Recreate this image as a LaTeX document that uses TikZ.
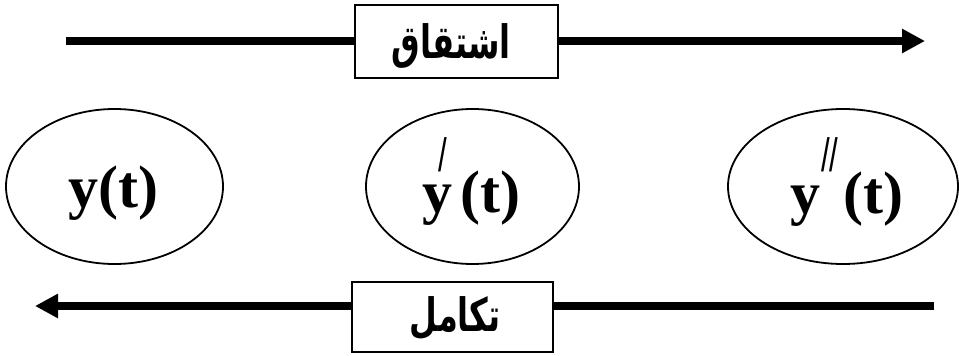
\documentclass[tikz,border=0pt]{standalone}
\usepackage{fontspec}
\setmainfont{Liberation Serif}
\newfontfamily\arabicfont[Script=Arabic]{DejaVu Sans}
\newfontfamily\slashfont{Liberation Sans}
\TeXXeTstate=1
\usetikzlibrary{shapes.geometric,arrows.meta}
\newcommand{\primeglyph}{{\slashfont\mdseries\fontsize{52}{52}\selectfont\scalebox{0.6}[0.9]{/}}}
\begin{document}
\begin{tikzpicture}[x=1pt,y=-1pt,
  oval/.style={draw,ellipse,line width=1.8pt,inner sep=0pt},
  arrowline/.style={line width=8pt,-{Triangle[length=23pt,width=23pt]}},
  labelbox/.style={draw,fill=white,line width=2pt,inner sep=0pt},
  fn/.style={font=\fontsize{60}{60}\selectfont\bfseries,anchor=base west,inner sep=0pt},
  ar/.style={font=\arabicfont\fontsize{40}{40}\selectfont\bfseries,inner sep=0pt}]
\useasboundingbox (0,0) rectangle (959,356);
\coordinate (a1) at (66,41);
\coordinate (a2) at (925,41);
\coordinate (b1) at (934,306);
\coordinate (b2) at (35,306);
\draw[arrowline] (a1) -- (a2);
\draw[arrowline] (b1) -- (b2);
\node[labelbox,minimum width=203pt,minimum height=73pt] (d) at (456.5,41.5) {};
\node[ar] (dt) at (451,45.5) {\scalebox{0.8}[1.15]{\beginR اشتقاق\endR}};
\node[labelbox,minimum width=201pt,minimum height=70pt] (i) at (452.5,317) {};
\node[ar] (it) at (455,318.5) {\scalebox{0.8}[1.15]{\beginR تكامل\endR}};
\node[oval,minimum width=217pt,minimum height=155pt] (e1) at (114.5,186.5) {};
\node[oval,minimum width=213pt,minimum height=155pt] (e2) at (472.5,186.5) {};
\node[oval,minimum width=230pt,minimum height=155pt] (e3) at (843,186.5) {};
\node[fn] (t1) at (68,207) {y(t)};
\node[fn] (t2) at (422,212) {y\rlap{\hspace{-14pt}\raisebox{41pt}{\primeglyph}}\hspace{8pt}(t)};
\node[fn] (t3) at (790,213) {y\rlap{\hspace{1pt}\raisebox{42pt}{\primeglyph\primeglyph}}\hspace{23pt}(t)};
\end{tikzpicture}
\end{document}
